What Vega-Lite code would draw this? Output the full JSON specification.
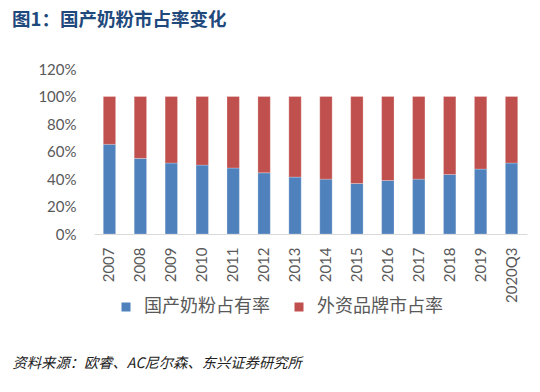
{
  "$schema": "https://vega.github.io/schema/vega-lite/v6.json",
  "autosize": "none",
  "width": 433,
  "height": 165,
  "padding": {"left": 94, "top": 69, "right": 13, "bottom": 158},
  "background": "#ffffff",
  "title": {
    "text": "图1：国产奶粉市占率变化",
    "anchor": "start",
    "frame": "group",
    "font": "Noto Sans CJK SC",
    "fontSize": 18.5,
    "fontWeight": "bold",
    "color": "#1F497D",
    "dx": -82,
    "offset": 33
  },
  "data": {
    "values": [
      {"year": "2007", "series": "国产奶粉占有率", "k": 1, "share": 0.652},
      {"year": "2007", "series": "外资品牌市占率", "k": 2, "share": 0.348},
      {"year": "2008", "series": "国产奶粉占有率", "k": 1, "share": 0.55},
      {"year": "2008", "series": "外资品牌市占率", "k": 2, "share": 0.45},
      {"year": "2009", "series": "国产奶粉占有率", "k": 1, "share": 0.516},
      {"year": "2009", "series": "外资品牌市占率", "k": 2, "share": 0.484},
      {"year": "2010", "series": "国产奶粉占有率", "k": 1, "share": 0.501},
      {"year": "2010", "series": "外资品牌市占率", "k": 2, "share": 0.499},
      {"year": "2011", "series": "国产奶粉占有率", "k": 1, "share": 0.48},
      {"year": "2011", "series": "外资品牌市占率", "k": 2, "share": 0.52},
      {"year": "2012", "series": "国产奶粉占有率", "k": 1, "share": 0.445},
      {"year": "2012", "series": "外资品牌市占率", "k": 2, "share": 0.555},
      {"year": "2013", "series": "国产奶粉占有率", "k": 1, "share": 0.414},
      {"year": "2013", "series": "外资品牌市占率", "k": 2, "share": 0.586},
      {"year": "2014", "series": "国产奶粉占有率", "k": 1, "share": 0.399},
      {"year": "2014", "series": "外资品牌市占率", "k": 2, "share": 0.601},
      {"year": "2015", "series": "国产奶粉占有率", "k": 1, "share": 0.367},
      {"year": "2015", "series": "外资品牌市占率", "k": 2, "share": 0.633},
      {"year": "2016", "series": "国产奶粉占有率", "k": 1, "share": 0.389},
      {"year": "2016", "series": "外资品牌市占率", "k": 2, "share": 0.611},
      {"year": "2017", "series": "国产奶粉占有率", "k": 1, "share": 0.399},
      {"year": "2017", "series": "外资品牌市占率", "k": 2, "share": 0.601},
      {"year": "2018", "series": "国产奶粉占有率", "k": 1, "share": 0.433},
      {"year": "2018", "series": "外资品牌市占率", "k": 2, "share": 0.567},
      {"year": "2019", "series": "国产奶粉占有率", "k": 1, "share": 0.472},
      {"year": "2019", "series": "外资品牌市占率", "k": 2, "share": 0.528},
      {"year": "2020Q3", "series": "国产奶粉占有率", "k": 1, "share": 0.516},
      {"year": "2020Q3", "series": "外资品牌市占率", "k": 2, "share": 0.484}
    ]
  },
  "mark": {"type": "bar", "stroke": "#ffffff", "strokeOpacity": 0.4, "strokeWidth": 0.6},
  "encoding": {
    "x": {
      "field": "year",
      "type": "nominal",
      "sort": null,
      "scale": {"paddingInner": 0.6, "paddingOuter": 0.3},
      "axis": {
        "title": "资料来源：欧睿、AC尼尔森、东兴证券研究所",
        "titleFont": "Noto Sans CJK SC",
        "titleFontSize": 14.3,
        "titleFontStyle": "italic",
        "titleFontWeight": "normal",
        "titleColor": "#222222",
        "titleAngle": 0,
        "titleAlign": "left",
        "titleAnchor": "start",
        "titleBaseline": "middle",
        "titleX": -82,
        "titleY": 129,
        "labelAngle": -90,
        "labelAlign": "right",
        "labelBaseline": "middle",
        "labelFont": "Lato",
        "labelFontSize": 15,
        "labelColor": "#595959",
        "labelPadding": 13,
        "ticks": false,
        "domainColor": "#D9D9D9",
        "domainWidth": 1.2,
        "grid": false
      }
    },
    "y": {
      "field": "share",
      "type": "quantitative",
      "stack": "zero",
      "scale": {"domain": [0, 1.2], "nice": false},
      "axis": {
        "title": null,
        "values": [0, 0.2, 0.4, 0.6, 0.8, 1.0, 1.2],
        "format": ".0%",
        "labelFont": "Lato",
        "labelFontSize": 15,
        "labelColor": "#595959",
        "labelPadding": 18,
        "ticks": false,
        "domain": false,
        "grid": false
      }
    },
    "color": {
      "field": "series",
      "type": "nominal",
      "scale": {"domain": ["国产奶粉占有率", "外资品牌市占率"], "range": ["#4F81BD", "#C0504D"]},
      "legend": {
        "title": null,
        "orient": "none",
        "legendX": 23,
        "legendY": 229,
        "direction": "horizontal",
        "symbolType": "square",
        "symbolSize": 81,
        "symbolStrokeWidth": 0,
        "labelFont": "Noto Sans CJK SC",
        "labelFontSize": 18,
        "labelColor": "#595959",
        "labelOffset": 9,
        "columnPadding": 20,
        "labelLimit": 300
      }
    },
    "order": {"field": "k", "type": "quantitative"}
  },
  "config": {"view": {"stroke": null}}
}
